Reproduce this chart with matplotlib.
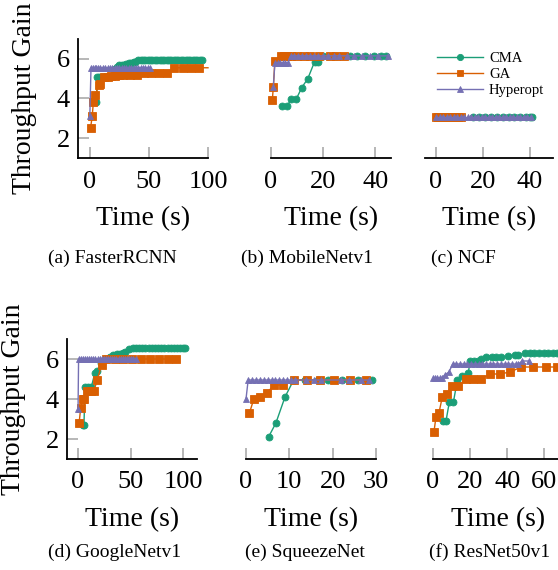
import matplotlib
matplotlib.use("Agg")
from matplotlib import pyplot as plt

plt.rcParams['font.family'] = ['Liberation Serif', 'DejaVu Serif']
plt.rcParams['mathtext.fontset'] = 'stix'

# colours / series names
names = ["CMA", "GA", "Hyperopt"]
colors = {"CMA": "#1b9e77", "GA": "#d95f02", "Hyperopt": "#7570b3"}
markers = {"CMA": "o", "GA": "s", "Hyperopt": "^"}

captions = ["(a) FasterRCNN", "(b) MobileNetv1", "(c) NCF",
            "(d) GoogleNetv1", "(e) SqueezeNet", "(f) ResNet50v1"]

# (time, gain) pairs
a_cma = [(5.6, 3.8), (6.2, 5.1), (8, 5.1), (10, 5.1), (12, 5.1), (14, 5.1), (16, 5.1), (18, 5.15),
         (21, 5.5), (23, 5.6), (25, 5.7), (27, 5.7), (29, 5.7), (31, 5.75), (33, 5.8), (35, 5.8),
         (37, 5.85), (38.5, 5.85), (40.5, 5.95), (43, 5.95), (45, 5.95), (47, 5.95), (49, 5.95),
         (51, 5.95), (53, 5.95), (55, 5.95), (57, 5.95), (59, 5.95), (61, 5.95), (63, 5.95),
         (65, 5.95), (67, 5.95), (69, 5.95), (71, 5.95), (73, 5.95), (75, 5.95), (77, 5.95),
         (79, 5.95), (81, 5.95), (83, 5.95), (85, 5.95), (87, 5.95), (89, 5.95), (91, 5.95),
         (93, 5.95), (95, 5.95)]
a_ga = [(0.6, 2.5), (2, 3.1), (3, 3.8), (4.8, 4.2), (7.9, 4.7), (9, 4.75), (12, 5.1), (15, 5.1),
        (18, 5.12), (21, 5.15), (24.5, 5.2), (28, 5.2), (34, 5.2), (40, 5.2), (45.5, 5.3),
        (52, 5.3), (58.5, 5.3), (65, 5.3), (71, 5.55), (78.5, 5.55), (85.5, 5.55), (92.5, 5.55),
        (100, 5.55)]
a_hyp = [(0, 3.1), (1, 5.55), (2.5, 5.55), (4, 5.55), (5.5, 5.55), (7, 5.55), (9, 5.55),
         (11, 5.55), (13, 5.55), (15, 5.55), (17, 5.55), (19, 5.55), (21, 5.55), (23, 5.55),
         (25, 5.55), (27, 5.55), (29, 5.55), (31, 5.55), (33, 5.55), (35, 5.55), (37, 5.55),
         (39, 5.55), (41, 5.55), (43, 5.55), (45, 5.55), (47, 5.55), (49, 5.55), (51, 5.55)]

b_cma = [(4.4, 3.6), (6, 3.6), (7.7, 3.95), (9.6, 3.95), (11.8, 4.55), (14.1, 5.0), (16.7, 5.85),
         (18.2, 5.85), (20, 6.15), (25, 6.15), (30.4, 6.15), (33, 6.15), (36, 6.15), (39.4, 6.15),
         (42, 6.15), (44, 6.15)]
b_ga = [(0.5, 3.9), (0.9, 4.6), (1.5, 5.9), (3.7, 6.15), (5, 6.15), (6.3, 6.15), (7.5, 6.15),
        (10, 6.15), (12.5, 6.15), (15, 6.15), (18.5, 6.15), (22.7, 6.15), (25, 6.15), (28, 6.15)]
b_hyp = [(0.9, 4.6), (1.5, 5.8), (2.5, 5.8), (3.5, 5.8), (4.5, 5.8), (5.5, 5.8), (6.5, 5.8),
         (7.5, 6.15), (9, 6.15), (10.5, 6.15), (12, 6.15), (13.5, 6.15), (15, 6.15), (16.5, 6.15),
         (18, 6.15), (20, 6.15), (22, 6.15), (24, 6.15), (26, 6.15), (29, 6.15), (32, 6.15),
         (35, 6.15), (38, 6.15), (41, 6.15), (45, 6.15)]

c_cma = [(16, 3.05), (18.5, 3.05), (21, 3.05), (23.5, 3.05), (26, 3.05), (28.5, 3.05),
         (31, 3.05), (33.5, 3.05), (36, 3.05), (38.5, 3.05), (40, 3.05), (41, 3.05)]
c_ga = [(0, 3.05), (0.8, 3.05), (1.6, 3.05), (2.4, 3.05), (3.2, 3.05), (4, 3.05), (4.8, 3.05),
        (5.6, 3.05), (6.4, 3.05), (7.2, 3.05), (8, 3.05), (8.8, 3.05), (9.6, 3.05), (10.5, 3.05)]
c_hyp = [(0, 3.05), (1.5, 3.05), (3, 3.05), (4.5, 3.05), (6, 3.05), (7.5, 3.05), (9, 3.05),
         (10.5, 3.05), (12, 3.05), (13.5, 3.05), (15, 3.05), (16.5, 3.05), (18, 3.05),
         (19.5, 3.05), (21, 3.05), (22.5, 3.05), (24, 3.05), (25.5, 3.05), (27, 3.05),
         (28.5, 3.05), (30, 3.05), (31.5, 3.05), (33, 3.05), (34.5, 3.05), (36, 3.05),
         (37.5, 3.05), (39, 3.05), (40.5, 3.05)]

d_cma = [(4.4, 2.7), (5.6, 2.7), (6.6, 4.6), (9.4, 4.6), (12.6, 4.6), (16, 5.3), (18.2, 5.4),
         (22, 5.8), (26, 6.0), (30, 6.1), (33.3, 6.2), (37, 6.25), (40, 6.25), (42.5, 6.3),
         (45, 6.35), (48.4, 6.5), (52, 6.55), (55, 6.55), (58, 6.55), (61, 6.55), (64, 6.55),
         (67, 6.55), (70, 6.55), (73, 6.55), (76, 6.55), (79, 6.55), (82, 6.55), (85, 6.55),
         (88, 6.55), (91, 6.55), (94, 6.55), (97, 6.55), (100, 6.55), (102, 6.55)]
d_ga = [(1, 2.8), (2.5, 3.55), (4.4, 4.0), (5.6, 4.0), (8.8, 4.4), (12, 4.4), (15, 4.4),
        (18.2, 4.95), (22.3, 5.7), (27, 6.0), (35, 6.0), (42.7, 6.0), (51.6, 6.0), (60, 6.0),
        (68.6, 6.0), (76.7, 6.0), (85.2, 6.0), (93.1, 6.0)]
d_hyp = [(0, 3.5), (0.5, 6.0), (2.5, 6.0), (4.5, 6.0), (6.5, 6.0), (8.5, 6.0), (10.5, 6.0),
         (12.5, 6.0), (14.5, 6.0), (16.5, 6.0), (18.5, 6.0), (20.5, 6.0), (22.5, 6.0),
         (24.5, 6.0), (26.5, 6.0), (28.5, 6.0), (30.5, 6.0), (32.5, 6.0), (34.5, 6.0),
         (36.5, 6.0), (38.5, 6.0), (40.5, 6.0), (42.5, 6.0), (44.5, 6.0), (46.5, 6.0),
         (48.5, 6.0), (50.5, 6.0), (52.5, 6.0), (55, 6.0)]

e_cma = [(5.2, 2.1), (6.9, 2.8), (9, 4.1), (11, 4.95), (13.6, 4.95), (16.5, 4.95), (19, 4.95),
         (22.1, 4.95), (25.9, 4.95), (29, 4.95)]
e_ga = [(0.8, 3.3), (1.8, 4.0), (3.2, 4.1), (4.8, 4.3), (6.5, 4.7), (8.6, 4.7), (11, 4.95),
        (14, 4.95), (17, 4.95), (20.4, 4.95), (24, 4.95), (27.8, 4.95)]
e_hyp = [(0, 4.0), (0.5, 4.95), (1.4, 4.95), (2.3, 4.95), (3.2, 4.95), (4.1, 4.95), (5, 4.95),
         (5.9, 4.95), (6.8, 4.95), (7.7, 4.95), (8.6, 4.95), (9.5, 4.95), (10.4, 4.95),
         (11.3, 4.95), (13.8, 4.95), (15.6, 4.95), (17.3, 4.95), (21.9, 4.95), (23.7, 4.95),
         (26.5, 4.95), (28.4, 4.95)]

f_cma = [(5.2, 2.9), (7, 2.9), (8.8, 3.85), (11, 3.85), (13.1, 4.95), (15.8, 5.15), (19, 5.3),
         (20, 5.9), (22, 5.9), (24.3, 5.9), (26, 6.0), (28.5, 6.1), (31.5, 6.1), (34, 6.1),
         (36.8, 6.1), (40.4, 6.15), (44, 6.2), (45.8, 6.2), (49.7, 6.3), (52, 6.3), (54.5, 6.3),
         (57, 6.3), (59.5, 6.3), (62, 6.3), (64.5, 6.3), (67, 6.3)]
f_ga = [(0.5, 2.35), (1.6, 3.1), (3.2, 3.3), (5, 4.1), (7.4, 4.25), (10, 4.65), (13.7, 4.65),
        (17.8, 5.0), (21.4, 5.0), (25.7, 5.0), (30.8, 5.25), (35.9, 5.25), (41.6, 5.35),
        (47.4, 5.6), (53.9, 5.6), (60.6, 5.6), (66.9, 5.6)]
f_hyp = [(0.2, 5.05), (1.3, 5.05), (2.4, 5.05), (3.5, 5.05), (4.7, 5.05), (6.3, 5.2),
         (8.6, 5.35), (10.6, 5.75), (12.5, 5.75), (14.5, 5.75), (16.5, 5.75), (18.5, 5.75),
         (20.5, 5.75), (22.5, 5.75), (24.5, 5.75), (26.5, 5.75), (28.5, 5.75), (30.5, 5.75),
         (32.5, 5.75), (34.5, 5.75), (36.5, 5.75), (38.5, 5.75), (40.5, 5.75), (42.5, 5.75),
         (44.5, 5.75), (46, 5.75), (48, 5.9), (51.6, 5.9)]

panels = [
    {"CMA": a_cma, "GA": a_ga, "Hyperopt": a_hyp},
    {"CMA": b_cma, "GA": b_ga, "Hyperopt": b_hyp},
    {"CMA": c_cma, "GA": c_ga, "Hyperopt": c_hyp},
    {"CMA": d_cma, "GA": d_ga, "Hyperopt": d_hyp},
    {"CMA": e_cma, "GA": e_ga, "Hyperopt": e_hyp},
    {"CMA": f_cma, "GA": f_ga, "Hyperopt": f_hyp},
]
xticks = [[0, 50, 100], [0, 20, 40], [0, 20, 40], [0, 50, 100], [0, 10, 20, 30], [0, 20, 40, 60]]
xlims = [(-10, 100), (0, 46), (-4.7, 50), (-10.5, 113), (0, 30), (0, 70)]

W, H = 558, 570
# axes boxes in pixels: x0, x1, ytop, ybottom
boxes = [(78, 208, 39, 158), (271, 391, 39, 158), (425, 553, 39, 158),
         (67, 197, 339, 459), (246, 376, 339, 459), (433, 563, 339, 459)]
cap_x = [112, 307, 463, 115, 305, 490]
cap_y = [258, 258, 258, 552, 552, 552]

fig = plt.figure(figsize=(W / 100, H / 100), dpi=100)

for i in range(6):
    x0, x1, yt, yb = boxes[i]
    ax = fig.add_axes([x0 / W, 1 - yb / H, (x1 - x0) / W, (yb - yt) / H])
    for n in names:
        pts = panels[i][n]
        t = [p[0] for p in pts]
        v = [p[1] for p in pts]
        ms = {"CMA": 5, "GA": 5.5, "Hyperopt": 4.5}[n]
        mev = None
        if i == 0 and n == "GA":
            mev = list(range(len(t) - 1))
        ax.plot(t, v, color=colors[n], marker=markers[n], markersize=ms, lw=1.0,
                markeredgewidth=0.6, markevery=mev, label=n, clip_on=False)
    ax.set_xlim(*xlims[i])
    ax.set_ylim(1, 7)
    ax.set_xticks(xticks[i])
    ax.spines['top'].set_visible(False)
    ax.spines['right'].set_visible(False)
    for s in ['bottom', 'left']:
        ax.spines[s].set_linewidth(1.3)
    ax.tick_params(axis='both', direction='in', length=8, width=1.2, color='#aaaaaa',
                   labelsize=19, pad=9)
    if i % 3 == 0:
        ax.set_yticks([2, 4, 6])
        ax.tick_params(axis='y', pad=6)
        ax.set_ylabel("Throughput Gain", fontsize=20, labelpad=14)
    else:
        ax.spines['left'].set_visible(False)
        ax.set_yticks([])
    ax.set_xlabel("Time (s)", fontsize=20, labelpad=10)
    if i == 2:
        ax.legend(loc='upper left', bbox_to_anchor=(0.09, 0.895), frameon=False, fontsize=10.5,
                  borderpad=0, borderaxespad=0, handlelength=3.2, handletextpad=0.4,
                  labelspacing=0.2, markerscale=0.9)
    fig.text(cap_x[i] / W, 1 - cap_y[i] / H, captions[i], fontsize=14,
             ha='center', va='center')

fig.savefig("out.png", dpi=100)
